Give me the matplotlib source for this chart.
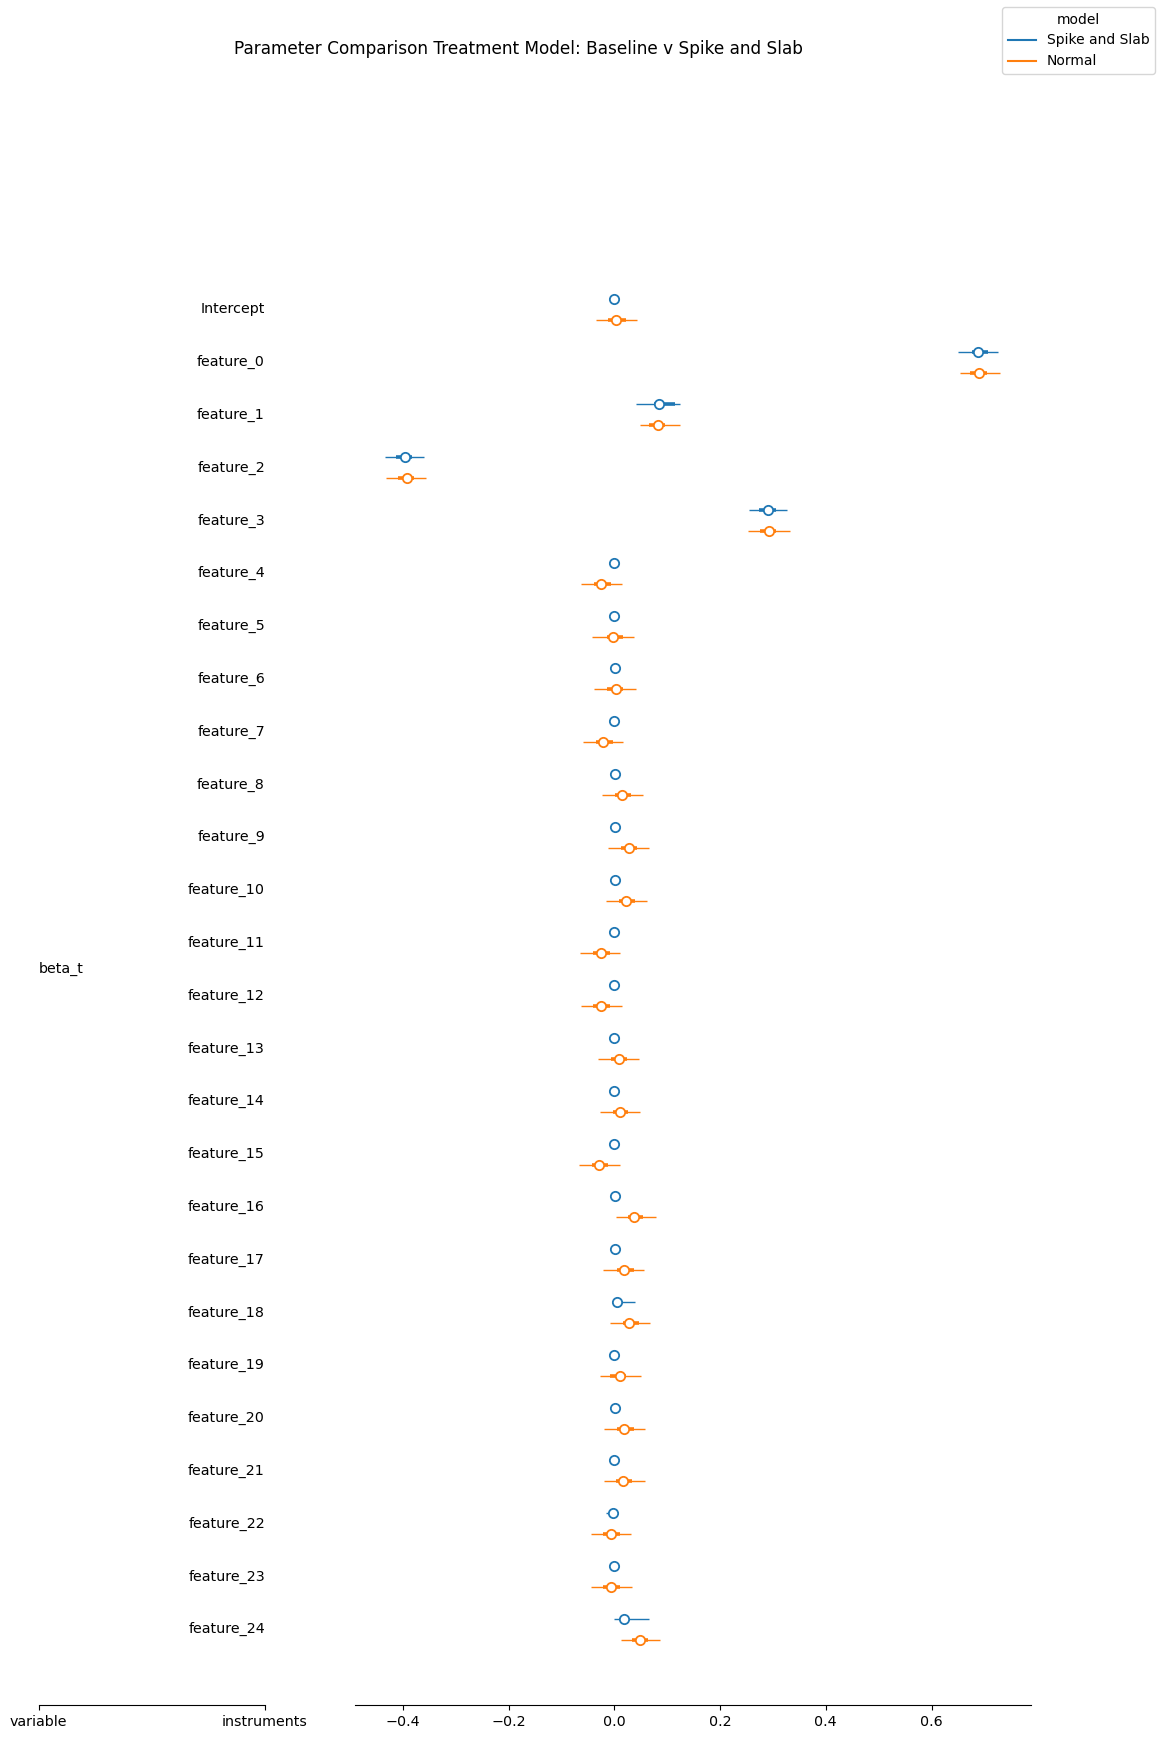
import matplotlib
matplotlib.use("Agg")
import matplotlib.pyplot as plt
import numpy as np
from matplotlib.lines import Line2D

labels = ["Intercept", "feature_0", "feature_1", "feature_2", "feature_3", "feature_4",
          "feature_5", "feature_6", "feature_7", "feature_8", "feature_9", "feature_10",
          "feature_11", "feature_12", "feature_13", "feature_14", "feature_15", "feature_16",
          "feature_17", "feature_18", "feature_19", "feature_20", "feature_21", "feature_22",
          "feature_23", "feature_24"]
variable_name = "beta_t"
models = ["Spike and Slab", "Normal"]
model_colors = ["#1f77b4", "#ff7f0e"]

# Spike and Slab
ss_mean = [0.0, 0.688, 0.085, -0.395, 0.291, 0.0, 0.0, 0.002, 0.0, 0.002, 0.002, 0.002, 0.0,
           0.0, 0.0, 0.0, 0.0, 0.002, 0.002, 0.006, 0.0, 0.002, 0.0, -0.002, 0.0, 0.019]
ss_hdi_lo = [-0.002, 0.650, 0.041, -0.434, 0.255, -0.002, -0.002, 0.0, -0.002, 0.0, 0.0, 0.0, -0.002,
             -0.002, -0.002, -0.002, -0.002, 0.0, 0.0, -0.002, -0.002, 0.0, -0.002, -0.016, -0.002, -0.001]
ss_hdi_hi = [0.002, 0.725, 0.124, -0.360, 0.326, 0.002, 0.002, 0.004, 0.002, 0.004, 0.004, 0.004, 0.002,
             0.002, 0.002, 0.002, 0.002, 0.004, 0.004, 0.039, 0.002, 0.004, 0.002, 0.005, 0.002, 0.066]
ss_q_lo = [-0.001, 0.676, 0.075, -0.413, 0.274, -0.001, -0.001, 0.001, -0.001, 0.001, 0.001, 0.001, -0.001,
           -0.001, -0.001, -0.001, -0.001, 0.001, 0.001, 0.001, -0.001, 0.001, -0.001, -0.006, -0.001, 0.011]
ss_q_hi = [0.001, 0.707, 0.115, -0.382, 0.305, 0.001, 0.001, 0.003, 0.001, 0.003, 0.003, 0.003, 0.001,
           0.001, 0.001, 0.001, 0.001, 0.003, 0.003, 0.014, 0.001, 0.003, 0.001, 0.002, 0.001, 0.027]

# Normal
nm_mean = [0.004, 0.690, 0.083, -0.393, 0.293, -0.025, -0.002, 0.003, -0.021, 0.015, 0.027, 0.023, -0.026,
           -0.025, 0.008, 0.010, -0.028, 0.038, 0.019, 0.028, 0.010, 0.019, 0.017, -0.006, -0.006, 0.049]
nm_hdi_lo = [-0.035, 0.654, 0.049, -0.432, 0.253, -0.063, -0.042, -0.038, -0.059, -0.023, -0.012, -0.016, -0.065,
             -0.063, -0.031, -0.027, -0.067, 0.003, -0.021, -0.008, -0.027, -0.020, -0.020, -0.044, -0.044, 0.013]
nm_hdi_hi = [0.043, 0.729, 0.124, -0.356, 0.332, 0.015, 0.037, 0.041, 0.016, 0.054, 0.066, 0.062, 0.011,
             0.015, 0.046, 0.049, 0.011, 0.079, 0.056, 0.068, 0.051, 0.058, 0.058, 0.032, 0.034, 0.086]
nm_q_lo = [-0.011, 0.672, 0.066, -0.409, 0.275, -0.038, -0.014, -0.014, -0.035, 0.002, 0.013, 0.009, -0.040,
           -0.040, -0.007, -0.003, -0.043, 0.025, 0.006, 0.016, -0.008, 0.006, 0.003, -0.021, -0.021, 0.033]
nm_q_hi = [0.022, 0.704, 0.096, -0.378, 0.306, -0.007, 0.016, 0.017, -0.003, 0.032, 0.043, 0.039, -0.009,
           -0.008, 0.024, 0.026, -0.011, 0.055, 0.037, 0.046, 0.023, 0.037, 0.033, 0.011, 0.011, 0.063]

title = "Parameter Comparison Treatment Model: Baseline v Spike and Slab"
col_labels = ["variable", "instruments"]

FS = 10.3
W, H = 1162, 1739
fig = plt.figure(figsize=(W / 100, H / 100), dpi=100)

ax_bottom_px, ax_top_px = 1705, 100
row0_px, row_step_px = 309.3, 52.8
y_top = (row0_px - ax_top_px) / row_step_px
y_bot = -(ax_bottom_px - row0_px) / row_step_px
ax_b = 1 - ax_bottom_px / H
ax_h = (ax_bottom_px - ax_top_px) / H

lab_l, lab_r = 38.8, 265.0
main_l, main_r = 354.5, 1031.4
ax_lab = fig.add_axes([lab_l / W, ax_b, (lab_r - lab_l) / W, ax_h])
ax = fig.add_axes([main_l / W, ax_b, (main_r - main_l) / W, ax_h])

n = len(labels)
ypos = -np.arange(n)
offset = 0.199

series = [
    (ss_mean, ss_hdi_lo, ss_hdi_hi, ss_q_lo, ss_q_hi, offset),
    (nm_mean, nm_hdi_lo, nm_hdi_hi, nm_q_lo, nm_q_hi, -offset),
]
for (mean, lo, hi, qlo, qhi, off), color, name in zip(series, model_colors, models):
    yy = ypos + off
    ax.hlines(yy, lo, hi, color=color, lw=1.0, zorder=2)
    ax.hlines(yy, qlo, qhi, color=color, lw=2.6, zorder=3)
    ax.plot(mean, yy, "o", ms=6.7, mfc="white", mec=color, mew=1.3, ls="none", zorder=4)

x0_px, px_per_unit = 614.3, 528.75
ax.set_xlim((main_l - x0_px) / px_per_unit, (main_r - x0_px) / px_per_unit)
ax.set_ylim(y_bot, y_top)
for s in ["top", "right", "left"]:
    ax.spines[s].set_visible(False)
ax.set_yticks([])
ax.set_xticks([-0.4, -0.2, 0.0, 0.2, 0.4, 0.6])
ax.tick_params(axis="x", labelsize=FS)

# label columns
ax_lab.set_xlim(0, 1)
ax_lab.set_ylim(y_bot, y_top)
for s in ["top", "right", "left"]:
    ax_lab.spines[s].set_visible(False)
ax_lab.set_yticks([])
ax_lab.set_xticks([0, 1])
ax_lab.set_xticklabels(col_labels)
ax_lab.tick_params(axis="x", labelsize=FS)
for y, lab in zip(ypos, labels):
    ax_lab.text(1, y, lab, ha="right", va="center", fontsize=FS)
ax_lab.text(0, ypos.mean(), variable_name, ha="left", va="center", fontsize=FS)

fig.text(518 / W, 1 - 49 / H, title, ha="center", va="center", fontsize=12.2)

handles = [Line2D([], [], color=c) for c in model_colors]
fig.legend(handles, models, title="model", loc="upper right")

fig.savefig("out.png", dpi=100)
